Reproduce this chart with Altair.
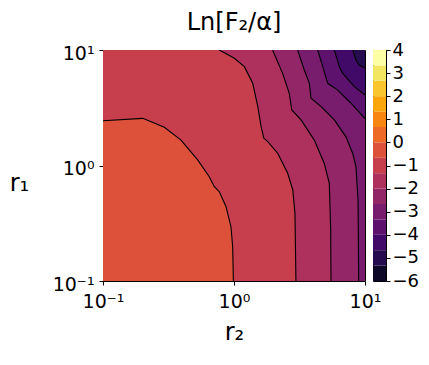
import altair as alt
import pandas as pd

FONT = "DejaVu Sans"

# Contour lines as (r2, r1) points.
# A is the innermost level (-0.667), G the outermost (-4.667).
A_r2 = [0.1, 0.201, 0.294, 0.394, 0.528, 0.647, 0.708, 0.773, 0.869, 0.948, 0.977, 0.989]
A_r1 = [2.44, 2.56, 2.14, 1.66, 1.12, 0.80, 0.655, 0.593, 0.44, 0.295, 0.198, 0.1]
B_r2 = [0.773, 1.005, 1.20, 1.39, 1.52, 1.61, 1.69, 1.81, 2.16, 2.57, 2.81, 2.92, 2.97]
B_r1 = [10, 8.47, 7.17, 5.15, 3.23, 2.17, 1.72, 1.61, 1.27, 0.856, 0.614, 0.385, 0.1]
C_r2 = [1.97, 2.35, 2.64, 2.76, 3.25, 4.10, 4.89, 5.34, 5.47, 5.50]
C_r1 = [10, 6.28, 4.22, 3.03, 2.48, 1.66, 1.04, 0.70, 0.277, 0.1]
D_r2 = [3.06, 3.44, 3.76, 3.87, 4.62, 5.83, 7.16, 8.06, 8.53, 8.85, 8.95]
D_r1 = [10, 6.71, 5.15, 3.82, 3.23, 2.48, 1.77, 1.27, 0.977, 0.50, 0.1]
E_r2 = [4.35, 4.76, 5.19, 6.19, 7.82, 10]
E_r1 = [10, 7.17, 5.15, 4.50, 3.46, 2.55]
F_r2 = [5.83, 6.37, 6.76, 8.29, 10]
F_r1 = [10, 7.17, 6.28, 4.81, 4.08]
G_r2 = [8.06, 8.53, 9.0, 10]
G_r1 = [10, 8.19, 7.41, 6.98]

# Colour bands (filled level boundaries) of the colour bar
levels = [-6, -5.333, -4.667, -4, -3.333, -2.667, -2, -1.333, -0.667,
          0, 0.667, 1.333, 2, 2.667, 3.333, 4]
cbar_ticks = [-6, -5, -4, -3, -2, -1, 0, 1, 2, 3, 4]

NBANDS = len(levels) - 1  # 15


def band_pos(k):
    # position of band k on the inferno colour map
    return (k + 1) / NBANDS


# curve name, r2, r1, band index of the region enclosed (lower-left side)
curves = [
    ("G", G_r2, G_r1, 2),
    ("F", F_r2, F_r1, 3),
    ("E", E_r2, E_r1, 4),
    ("D", D_r2, D_r1, 5),
    ("C", C_r2, C_r1, 6),
    ("B", B_r2, B_r1, 7),
    ("A", A_r2, A_r1, 8),
]

xs = alt.Scale(type="log", domain=[0.1, 10], nice=False, padding=0)
ys = alt.Scale(type="log", domain=[0.1, 10], nice=False, padding=0)
cscale = alt.Scale(scheme="inferno", domain=[0, 1])

LBL = "datum.value < 0.5 ? '10⁻¹' : (datum.value < 5 ? '10⁰' : '10¹')"
x_axis = alt.Axis(values=[0.1, 1, 10], labelExpr=LBL, labelFlush=False,
                  labelFontSize=19, tickSize=4, labelPadding=7, title="r₂",
                  titleFontSize=24, titleFontWeight="normal", titlePadding=9)
y_axis = alt.Axis(values=[0.1, 1, 10], labelExpr=LBL, labelFlush=False,
                  labelFontSize=19, tickSize=4, labelPadding=5, labelBaseline="middle",
                  labelOffset=3, title="r₁",
                  titleFontSize=24, titleFontWeight="normal", titleAngle=0,
                  titleAlign="center", titleBaseline="alphabetic", titleX=-84, titleY=140)

bg = pd.DataFrame({"x": [0.1], "x2": [10], "y": [0.1], "y2": [10], "pos": [band_pos(1)]})
bg_layer = alt.Chart(bg).mark_rect().encode(
    x=alt.X("x:Q", scale=xs, axis=x_axis),
    x2="x2:Q",
    y=alt.Y("y:Q", scale=ys, axis=y_axis),
    y2="y2:Q",
    color=alt.Color("pos:Q", scale=cscale, legend=None),
)

layers = [bg_layer]
line_rows = []
for name, r2s, r1s, k in curves:
    pts = list(zip(r2s, r1s))
    for i, (a, b) in enumerate(pts):
        line_rows.append({"curve": name, "idx": i, "r2": a, "r1": b})
    if pts[0][1] >= 10 and pts[0][0] > 0.1:
        pts = [(0.1, 10)] + pts
    df = pd.DataFrame({"r2": [p[0] for p in pts], "r1": [p[1] for p in pts],
                       "base": [0.1] * len(pts)})
    layers.append(
        alt.Chart(df).mark_area(clip=True, color=alt.ExprRef(
            expr=f"scale('color', {band_pos(k)})")).encode(
            x=alt.X("r2:Q", scale=xs),
            y=alt.Y("r1:Q", scale=ys, stack=None),
            y2="base:Q",
        )
    )

lines = alt.Chart(pd.DataFrame(line_rows)).mark_line(color="black", strokeWidth=1.1, clip=True).encode(
    x=alt.X("r2:Q", scale=xs),
    y=alt.Y("r1:Q", scale=ys),
    detail="curve:N",
    order="idx:Q",
)
layers.append(lines)

main = alt.layer(*layers).properties(
    width=262, height=231,
    title=alt.Title("Ln[F₂/α]", fontSize=24, fontWeight="normal", frame="group",
                    anchor="middle", offset=9),
)

bands = pd.DataFrame({
    "lo": levels[:-1],
    "hi": levels[1:],
    "pos": [band_pos(k) for k in range(NBANDS)],
})
cbar = alt.Chart(bands).mark_rect().encode(
    y=alt.Y("lo:Q", scale=alt.Scale(domain=[-6, 4], nice=False, zero=False, padding=0),
            axis=alt.Axis(orient="right", values=cbar_ticks, title=None, labelFontSize=18,
                          tickSize=4, labelPadding=2, format="d", labelFlush=False)),
    y2="hi:Q",
    x=alt.value(0),
    x2=alt.value(13),
    color=alt.Color("pos:Q", scale=cscale, legend=None),
).properties(width=13, height=231)

chart = alt.hconcat(main, cbar, spacing=8, bounds="flush").configure_view(
    stroke="black", strokeWidth=1
).configure_axis(
    labelFont=FONT, titleFont=FONT, grid=False, domain=False,
    tickColor="black", labelColor="black", titleColor="black"
).configure_title(font=FONT, color="black").properties(
    padding={"left": 0, "right": 0, "top": 2, "bottom": 0}
)

chart.save("out.html", embed_options={"renderer": "svg", "actions": False})
